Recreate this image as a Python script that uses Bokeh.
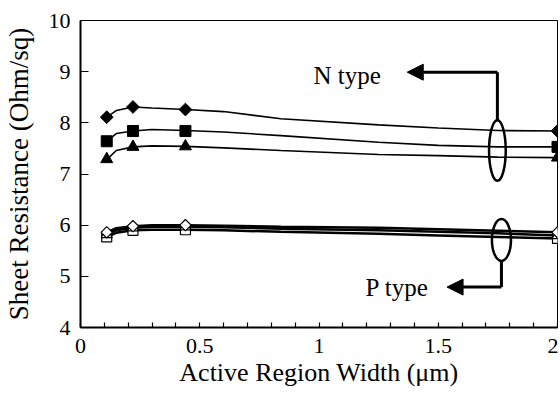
from bokeh.plotting import figure
from bokeh.models import FixedTicker, CustomJSTickFormatter, Arrow, NormalHead, Range1d, Label
from bokeh.embed import file_html
from bokeh.resources import INLINE

FONT = "'Liberation Serif', 'Times New Roman', serif"

# ---- data ----
marker_x = [0.11, 0.22, 0.44, 2.0]
line_x = [0.11, 0.15, 0.22, 0.30, 0.44, 0.60, 0.84, 1.25, 1.50, 1.75, 2.00]

# N type (filled markers)
n_diamond_line = [8.11, 8.24, 8.31, 8.29, 8.26, 8.22, 8.08, 7.96, 7.90, 7.85, 7.84]
n_square_line = [7.64, 7.79, 7.84, 7.87, 7.85, 7.82, 7.75, 7.62, 7.56, 7.53, 7.53]
n_triangle_line = [7.28, 7.46, 7.53, 7.55, 7.54, 7.51, 7.46, 7.38, 7.36, 7.33, 7.32]
n_diamond = [8.11, 8.31, 8.26, 7.84]
n_square = [7.64, 7.84, 7.84, 7.53]
n_triangle = [7.29, 7.53, 7.54, 7.32]

# P type (open markers)
p_diamond_line = [5.86, 5.94, 5.98, 6.00, 6.00, 5.99, 5.97, 5.95, 5.92, 5.89, 5.86]
p_triangle_line = [5.82, 5.90, 5.95, 5.97, 5.97, 5.96, 5.93, 5.90, 5.87, 5.84, 5.80]
p_square_line = [5.77, 5.85, 5.90, 5.91, 5.91, 5.90, 5.87, 5.83, 5.80, 5.77, 5.74]
p_diamond = [5.86, 5.98, 6.00, 5.86]
p_triangle = [5.82, 5.95, 5.97, 5.80]
p_square = [5.77, 5.90, 5.91, 5.74]

x_ticks = [0, 0.5, 1, 1.5, 2]
x_minor_ticks = [0.1, 0.2, 0.3, 0.4, 0.6, 0.7, 0.8, 0.9, 1.1, 1.2, 1.3, 1.4,
                 1.6, 1.7, 1.8, 1.9]
y_ticks = [4, 5, 6, 7, 8, 9, 10]

x_title = "Active Region Width (\u03bcm)"
y_title = "Sheet Resistance (Ohm/sq)"

# ---- figure ----
p = figure(width=558, height=394, x_range=Range1d(0, 2), y_range=Range1d(4, 10),
           output_backend="svg", toolbar_location=None,
           min_border_left=80, min_border_right=1, min_border_top=20, min_border_bottom=67)
p.xgrid.visible = False
p.ygrid.visible = False
p.outline_line_color = "black"
p.outline_line_width = 1
p.background_fill_color = "white"
p.border_fill_color = "white"

xa = p.xaxis[0]
xa.ticker = FixedTicker(ticks=x_ticks, minor_ticks=x_minor_ticks)
xa.formatter = CustomJSTickFormatter(code="return String(tick)")
xa.axis_line_width = 2
xa.major_tick_in = 5
xa.major_tick_out = 0
xa.minor_tick_in = 5
xa.minor_tick_out = 0
xa.major_tick_line_width = 1.2
xa.minor_tick_line_width = 1.2
xa.major_label_text_font = FONT
xa.major_label_text_font_size = "22px"
xa.major_label_text_color = "black"
xa.major_label_standoff = 11
xa.axis_label = x_title
xa.axis_label_text_font = FONT
xa.axis_label_text_font_size = "26px"
xa.axis_label_text_font_style = "normal"
xa.axis_label_text_color = "black"
xa.axis_label_standoff = 2

ya = p.yaxis[0]
ya.ticker = FixedTicker(ticks=y_ticks, minor_ticks=[])
ya.axis_line_width = 2
ya.major_tick_in = 8
ya.major_tick_out = 0
ya.minor_tick_in = 0
ya.minor_tick_out = 0
ya.major_tick_line_width = 1.2
ya.major_label_text_font = FONT
ya.major_label_text_font_size = "22px"
ya.major_label_text_color = "black"
ya.major_label_standoff = 10
ya.axis_label = y_title
ya.axis_label_text_font = FONT
ya.axis_label_text_font_size = "27px"
ya.axis_label_text_font_style = "normal"
ya.axis_label_text_color = "black"
ya.axis_label_standoff = 12

ROT = 0.785398  # 45 degrees: square drawn as a rhombus

# ---- N type ----
for vals in (n_diamond_line, n_square_line, n_triangle_line):
    p.line(line_x, vals, line_color="black", line_width=1.6)
p.scatter(marker_x, n_diamond, marker="square", angle=ROT, size=9, fill_color="black", line_color="black")
p.scatter(marker_x, n_square, marker="square", size=11, fill_color="black", line_color="black")
p.scatter(marker_x, n_triangle, marker="triangle", size=12, fill_color="black", line_color="black")

# ---- P type ----
for vals in (p_square_line, p_triangle_line, p_diamond_line):
    p.line(line_x, vals, line_color="black", line_width=2.5)
p.scatter(marker_x, p_square, marker="square", size=10, fill_color="white", line_color="black", line_width=1.2)
p.scatter(marker_x, p_triangle, marker="triangle", size=11, fill_color="white", line_color="black", line_width=1.2)
p.scatter(marker_x, p_diamond, marker="square", angle=ROT, size=8, fill_color="white", line_color="black", line_width=1.2)

# ---- annotations ----
p.ellipse(x=[1.748], y=[7.46], width=0.07, height=1.18, fill_color=None,
          line_color="black", line_width=2.5)
p.line([1.748, 1.748], [8.05, 8.99], line_color="black", line_width=3)
p.add_layout(Arrow(end=NormalHead(size=16, fill_color="black", line_color="black"),
                   x_start=1.748, y_start=8.99, x_end=1.37, y_end=8.99,
                   line_color="black", line_width=3))
p.add_layout(Label(x=0.977, y=8.92, text="N type", text_font=FONT, text_font_size="25px",
                   text_baseline="middle", text_color="black"))

p.ellipse(x=[1.765], y=[5.71], width=0.08, height=0.82, fill_color=None,
          line_color="black", line_width=2.5)
p.line([1.765, 1.765], [5.30, 4.79], line_color="black", line_width=3)
p.add_layout(Arrow(end=NormalHead(size=16, fill_color="black", line_color="black"),
                   x_start=1.765, y_start=4.79, x_end=1.537, y_end=4.79,
                   line_color="black", line_width=3))
p.add_layout(Label(x=1.195, y=4.79, text="P type", text_font=FONT, text_font_size="25px",
                   text_baseline="middle", text_color="black"))

open("out.html", "w").write(file_html(p, INLINE))
